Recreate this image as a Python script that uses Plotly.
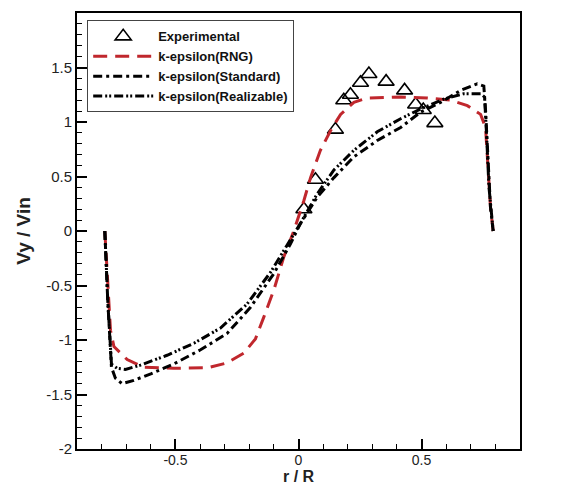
import plotly.graph_objects as go

# Experimental data
exp_x = [0.022, 0.069, 0.150, 0.184, 0.211, 0.252, 0.286, 0.356, 0.431, 0.476, 0.507, 0.554]
exp_y = [0.20, 0.47, 0.93, 1.20, 1.25, 1.36, 1.44, 1.37, 1.29, 1.16, 1.11, 0.99]

# k-epsilon (RNG)
rng_x = [-0.787, -0.764, -0.750, -0.696, -0.629, -0.507, -0.371, -0.290, -0.222, -0.175, -0.141,
         -0.100, -0.060, -0.019, 0.022, 0.049, 0.089, 0.130, 0.171, 0.225, 0.279, 0.415, 0.523,
         0.618, 0.686, 0.740, 0.760, 0.770, 0.780, 0.791]
rng_y = [0.0, -0.91, -1.06, -1.18, -1.25, -1.26, -1.255, -1.21, -1.12, -0.99, -0.79,
         -0.54, -0.24, 0.0, 0.28, 0.49, 0.74, 0.92, 1.07, 1.18, 1.22, 1.23, 1.22,
         1.20, 1.15, 1.07, 0.95, 0.59, 0.22, 0.0]

# k-epsilon (Standard)
std_x = [-0.787, -0.775, -0.760, -0.744, -0.717, -0.669, -0.600, -0.507, -0.398, -0.290, -0.195,
         -0.100, -0.033, 0.008, 0.076, 0.144, 0.225, 0.320, 0.415, 0.496, 0.577, 0.659, 0.726,
         0.753, 0.760, 0.770, 0.780, 0.791]
std_y = [0.0, -0.64, -1.25, -1.35, -1.40, -1.37, -1.31, -1.22, -1.09, -0.94, -0.70,
         -0.39, -0.12, 0.07, 0.31, 0.49, 0.68, 0.83, 0.95, 1.09, 1.18, 1.29, 1.35,
         1.33, 1.11, 0.65, 0.22, 0.0]

# k-epsilon (Realizable)
rea_x = [-0.787, -0.775, -0.760, -0.737, -0.703, -0.642, -0.534, -0.425, -0.317, -0.209, -0.114,
         -0.046, 0.008, 0.076, 0.144, 0.225, 0.320, 0.415, 0.496, 0.591, 0.672, 0.740, 0.756,
         0.764, 0.774, 0.791]
rea_y = [0.0, -0.64, -1.22, -1.26, -1.27, -1.23, -1.14, -1.03, -0.89, -0.67, -0.38,
         -0.13, 0.07, 0.34, 0.56, 0.74, 0.91, 1.03, 1.12, 1.21, 1.26, 1.26, 1.23,
         0.89, 0.40, 0.0]

x_ticks = [-0.5, 0, 0.5]
x_ticklabels = ["-0.5", "0", "0.5"]
y_ticks = [-2, -1.5, -1, -0.5, 0, 0.5, 1, 1.5, 2]
y_ticklabels = ["-2", "-1.5", "-1", "-0.5", "0", "0.5", "1", "1.5", "2"]

FONT = "Liberation Sans, Arial, sans-serif"

fig = go.Figure()
fig.add_trace(go.Scatter(x=exp_x, y=exp_y, mode="markers", name="<b>Experimental</b>",
                         marker=dict(symbol="triangle-up-open", size=14, color="black",
                                     line=dict(width=1.6, color="black"))))
fig.add_trace(go.Scatter(x=rng_x, y=rng_y, mode="lines", name="<b>k-epsilon(RNG)</b>",
                         line=dict(color="#c0272d", width=3, dash="14px,8px")))
fig.add_trace(go.Scatter(x=std_x, y=std_y, mode="lines", name="<b>k-epsilon(Standard)</b>",
                         line=dict(color="black", width=3, dash="9px,4px,3px,4px")))
fig.add_trace(go.Scatter(x=rea_x, y=rea_y, mode="lines", name="<b>k-epsilon(Realizable)</b>",
                         line=dict(color="black", width=3, dash="9px,3px,2px,2px,2px,3px")))

axis_common = dict(
    showgrid=False, zeroline=False, showline=True, linecolor="black", linewidth=2,
    mirror=True, ticks="inside", ticklen=10, tickwidth=1.5, tickcolor="black",
    automargin=False,
)

fig.update_xaxes(range=[-0.9, 0.9], tickmode="array", tickvals=x_ticks, ticktext=x_ticklabels,
                 tickfont=dict(family=FONT, size=14, color="#222"), ticklabelstandoff=-3,
                 minor=dict(dtick=0.1, tick0=0, ticks="inside", ticklen=5, tickwidth=1, tickcolor="black"),
                 **axis_common)
fig.update_yaxes(range=[-2, 2], tickmode="array", tickvals=y_ticks, ticktext=y_ticklabels,
                 tickfont=dict(family=FONT, size=15, color="#222"),
                 minor=dict(dtick=0.1, tick0=0, ticks="inside", ticklen=5, tickwidth=1, tickcolor="black"),
                 title=dict(text="<b>Vy / Vin</b>", font=dict(family=FONT, size=19, color="#222"), standoff=10),
                 **axis_common)

fig.add_annotation(text="<b>r / R</b>", xref="paper", yref="paper", x=0.5, y=0,
                   xanchor="center", yanchor="top", yshift=-17, showarrow=False,
                   font=dict(family=FONT, size=16, color="#222"))

fig.update_layout(
    width=558, height=481,
    margin=dict(l=69, r=46, t=5, b=40),
    plot_bgcolor="white", paper_bgcolor="white",
    font=dict(family=FONT, size=13, color="#222"),
    legend=dict(x=0.023, y=0.983, xanchor="left", yanchor="top",
                bordercolor="#444", borderwidth=1, bgcolor="white",
                font=dict(family=FONT, size=13, color="#111"),
                itemwidth=60, tracegroupgap=0),
    showlegend=True,
)

fig.write_html("out.html")
